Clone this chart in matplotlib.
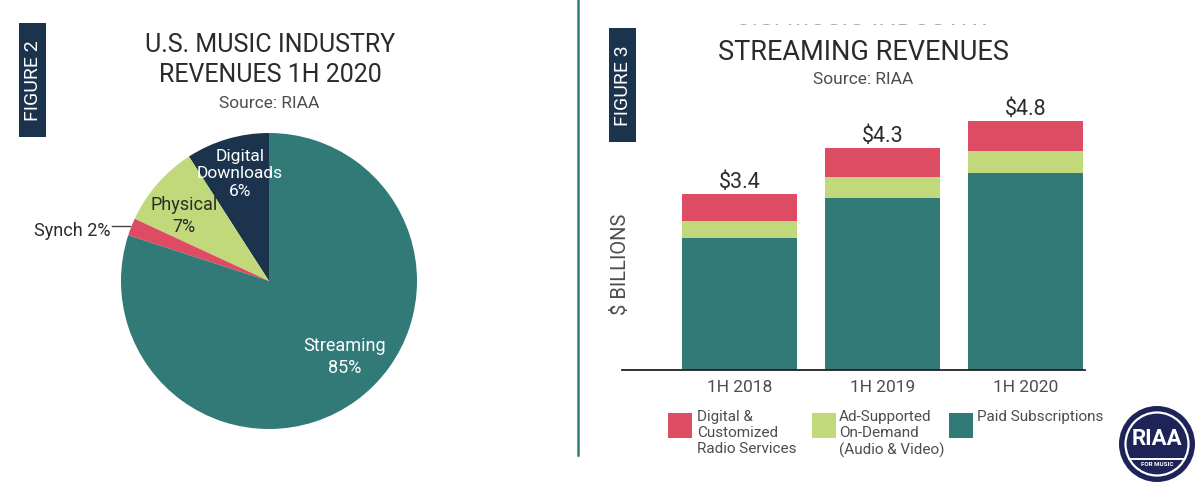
"""Recreates the RIAA 1H 2020 revenue figures (pie + stacked bars)"""

import matplotlib
matplotlib.use("Agg")
import matplotlib.pyplot as plt
from matplotlib.patches import Rectangle, Circle

plt.rcParams['font.family'] = ['Roboto', 'DejaVu Sans']

TEAL = '#317a78'
GREEN = '#c1d97b'
RED = '#dd4c63'
NAVY = '#1c334d'
LOGO = '#1e2458'
INK = '#2b2b2b'
GREY = '#4d4d4d'

# pie, counter clockwise from 12 o'clock. shares are as drawn, the printed
# labels do not agree with the slice sizes in the original
pie_names = ['Digital\nDownloads\n6%', 'Physical\n7%', 'Synch 2%', 'Streaming\n85%']
pie_shares = [9.1, 9.0, 1.9, 80.0]
pie_colors = [NAVY, GREEN, RED, TEAL]

# bars, $ billions
periods = ['1H 2018', '1H 2019', '1H 2020']
totals = ['$3.4', '$4.3', '$4.8']
paid = [2.55, 3.32, 3.80]
ad_supported = [0.33, 0.41, 0.42]
radio = [0.52, 0.56, 0.59]

W, H = 1200, 487
PX_PER_BILLION = 51.8


def px_axes(fig, left, top, right, bottom):
    return fig.add_axes([left / W, 1 - bottom / H, (right - left) / W, (bottom - top) / H])


fig = plt.figure(figsize=(12, 4.87), dpi=100)

# figure 2, pie
ax_pie = px_axes(fig, 121, 133, 417, 429)
ax_pie.pie(pie_shares, colors=pie_colors, startangle=90, counterclock=True, radius=1)
ax_pie.set_xlim(-1, 1)
ax_pie.set_ylim(-1, 1)

# figure 3, stacked bars
ax_bar = px_axes(fig, 622, 100, 1085, 370)
x = range(len(periods))
bottoms_ad = paid
bottoms_radio = [p + a for p, a in zip(paid, ad_supported)]
ax_bar.bar(x, paid, width=0.81, color=TEAL)
ax_bar.bar(x, ad_supported, width=0.81, bottom=bottoms_ad, color=GREEN)
ax_bar.bar(x, radio, width=0.81, bottom=bottoms_radio, color=RED)
ax_bar.set_xlim(-0.822, 2.416)
ax_bar.set_ylim(0, 270 / PX_PER_BILLION)
ax_bar.set_xticks(list(x), periods, fontsize=12.5, color=GREY)
ax_bar.tick_params(axis='x', length=0, pad=7.5)
ax_bar.set_yticks([])
for side in ['top', 'left', 'right']:
    ax_bar.spines[side].set_visible(False)
ax_bar.spines['bottom'].set_color('#222222')
ax_bar.spines['bottom'].set_linewidth(1.3)
for i, total in enumerate(totals):
    top = bottoms_radio[i] + radio[i]
    ax_bar.annotate(total, (i, top), xytext=(0, 0.5), textcoords='offset points',
                    ha='center', va='bottom', fontsize=15.5, color=INK)

# everything else is placed in pixels
ov = fig.add_axes([0, 0, 1, 1], zorder=5)
ov.set_xlim(0, W)
ov.set_ylim(H, 0)
ov.axis('off')
ov.patch.set_alpha(0)

ov.plot([578, 578], [0, 455], color=TEAL, lw=1.8)

# tags
for x0, y0, label in [(19, 23, 'FIGURE 2'), (609, 28, 'FIGURE 3')]:
    ov.add_patch(Rectangle((x0, y0), 27, 114, color=NAVY, lw=0))
    ov.text(x0 + 14, y0 + 58, label, rotation=90, color='white', fontsize=14,
            ha='center', va='center')

# titles
ov.text(270, 45, 'U.S. MUSIC INDUSTRY', fontsize=18, color=INK, ha='center', va='center')
ov.text(270, 75, 'REVENUES 1H 2020', fontsize=18, color=INK, ha='center', va='center')
ov.text(269, 104, 'Source: RIAA', fontsize=12.5, color=GREY, ha='center', va='center')

# cropped title line peeking out above streaming title
ov.text(864, 18, 'U.S. MUSIC INDUSTRY', fontsize=18.5, color='#aaaaaa', ha='center', va='center',
        zorder=2)
ov.add_patch(Rectangle((700, 0), 330, 24, color='white', lw=0, zorder=3))
ov.text(863, 52, 'STREAMING REVENUES', fontsize=19.5, color=INK, ha='center', va='center', zorder=4)
ov.text(863, 80, 'Source: RIAA', fontsize=12.5, color=GREY, ha='center', va='center')

# pie labels
ov.text(240, 174, pie_names[0], color='white', fontsize=12.5, ha='center', va='center',
        linespacing=1.2)
ov.text(184, 216, pie_names[1], color=INK, fontsize=13, ha='center', va='center',
        linespacing=1.3)
ov.text(72, 231, pie_names[2], color=INK, fontsize=13, ha='center', va='center')
ov.plot([112, 130], [226, 226], color='#444444', lw=1)
ov.text(345, 357, pie_names[3], color='white', fontsize=13, ha='center', va='center',
        linespacing=1.3)

ov.text(620, 264, '$ BILLIONS', rotation=90, fontsize=14.5, color=GREY, ha='center', va='center')

# legend
legend_items = [(668, RED, 'Digital &\nCustomized\nRadio Services', 697),
                (812, GREEN, 'Ad-Supported\nOn-Demand\n(Audio & Video)', 839),
                (949, TEAL, 'Paid Subscriptions', 977)]
for sq_x, color, text, text_x in legend_items:
    ov.add_patch(Rectangle((sq_x, 413), 24, 25, color=color, lw=0))
    ov.text(text_x, 410, text, fontsize=11, color=GREY, ha='left', va='top', linespacing=1.2)

# logo
ov.add_patch(Circle((1157, 444), 38, color=LOGO, lw=0))
ov.add_patch(Circle((1157, 444), 31.5, fill=False, ec='white', lw=1.6))
ov.text(1157, 439, 'RIAA', color='white', fontsize=16, fontweight='bold', ha='center',
        va='center')
ov.plot([1131, 1183], [459, 459], color='white', lw=1.4)
ov.text(1157, 465, 'FOR MUSIC', color='white', fontsize=4.5, fontweight='bold', ha='center',
        va='center')

fig.savefig('out.png', dpi=100)
plt.close()
